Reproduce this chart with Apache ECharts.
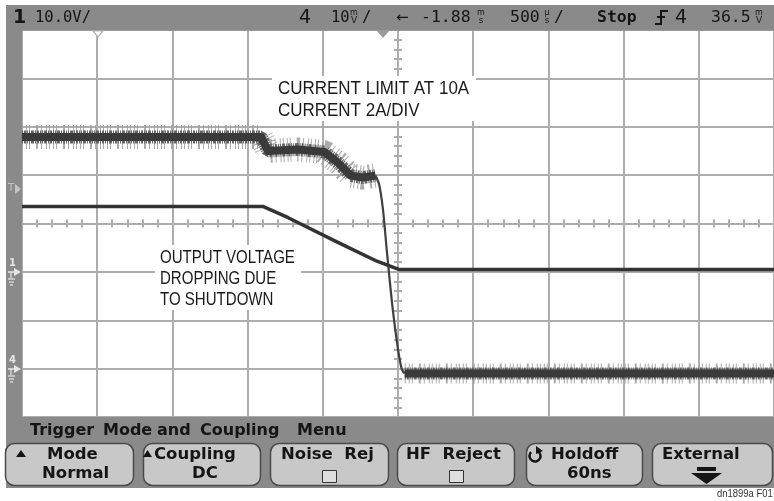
<!DOCTYPE html>
<html><head><meta charset="utf-8">
<script src="https://cdn.jsdelivr.net/npm/echarts@6/dist/echarts.min.js"></script>
<style>html,body{margin:0;padding:0;background:#fff}#c{width:774px;height:501px}</style>
</head><body><div id="c"></div>
<script>
// Units: x in divisions (500us/div, -5..5), y in divisions (-4..4)
const currentHigh = [[-5,1.79],[-1.82,1.79],[-1.73,1.50],[-1.33,1.53],[-0.98,1.48],[-0.80,1.26],[-0.63,0.99],[-0.47,0.95],[-0.30,0.99]];
const currentDrop = [[-0.30,0.99],[-0.25,0.80],[-0.20,0.29],[-0.15,-0.54],[-0.07,-1.77],[0.0,-2.60],[0.05,-3.01],[0.09,-3.10]];
const currentLow  = [[0.09,-3.10],[5,-3.10]];
const voltage     = [[-5,0.35],[-1.79,0.35],[-1.46,0.12],[-0.80,-0.39],[-0.28,-0.78],[0.01,-0.95],[5,-0.95]];

const annotCurrent = ['CURRENT LIMIT AT 10A','CURRENT 2A/DIV'];
const annotVoltage = ['OUTPUT VOLTAGE','DROPPING DUE','TO SHUTDOWN'];
const menuWords = ['Trigger','Mode','and','Coupling','Menu'];
const buttonLines = [['Mode','Normal'],['Coupling','DC'],['Noise  Rej',''],['HF  Reject',''],['Holdoff','60ns'],['External','']];

const GRID = '#adadad';
const FRAME = '#8a8a8a';
const TXT = '#151515';

const chart = echarts.init(document.getElementById('c'), null, {renderer:'canvas'});

function axisX(pos, idx){
  return {type:'value', position:pos, min:-5, max:5, interval:1,
    axisLine:{show:true, onZero:true, onZeroAxisIndex:0, lineStyle:{color:GRID, width:2}},
    axisTick:{show:false}, axisLabel:{show:false},
    minorTick:{show:true, splitNumber:5, length:4, lineStyle:{color:GRID, width:2}},
    splitLine:{show: idx===0, lineStyle:{color:GRID, width:2}}, minorSplitLine:{show:false}};
}
function axisY(pos, idx){
  return {type:'value', position:pos, min:-4, max:4, interval:1,
    axisLine:{show:true, onZero:true, onZeroAxisIndex:0, lineStyle:{color:GRID, width:2}},
    axisTick:{show:false}, axisLabel:{show:false},
    minorTick:{show:true, splitNumber:5, length:4, lineStyle:{color:GRID, width:2}},
    splitLine:{show: idx===0, lineStyle:{color:GRID, width:2}}, minorSplitLine:{show:false}};
}
function noisy(data, wide, mid){
  return [
    {type:'line', data, showSymbol:false, silent:true, z:2,
      lineStyle:{color:'#a2a2a2', width:wide, type:[1,3,1,2,1,6,2,3,1,4,1,2], cap:'butt', opacity:0.9}},
    {type:'line', data, showSymbol:false, silent:true, z:3,
      lineStyle:{color:'#666', width:mid, type:[1,1,2,1,1,1,1,1,3,1], cap:'butt'}},
    {type:'line', data, showSymbol:false, silent:true, z:4,
      lineStyle:{color:'#3a3a3a', width:8, join:'round'}}
  ];
}

const mono = 'DejaVu Sans Mono';
const sans = 'DejaVu Sans';
const cond = 'Liberation Sans, Arial, sans-serif';

const g = [];
// frame pieces
g.push({type:'rect', z:1, shape:{x:6,y:5,width:768,height:25.5}, style:{fill:FRAME}});
g.push({type:'rect', z:1, shape:{x:6,y:30,width:16,height:388}, style:{fill:FRAME}});
g.push({type:'rect', z:1, shape:{x:6,y:417,width:768,height:71}, style:{fill:FRAME}});
// top status bar
function st(text, x, y, o){ g.push({type:'text', z:50, style:Object.assign({text, x, y, fill:TXT, fontFamily:mono, fontSize:16.5, verticalAlign:'middle'}, o||{})}); }
st('1', 13, 18, {fontFamily:sans, fontWeight:'bold', fontSize:19});
st('10.0V/', 35, 18, {fontSize:15.5});
st('4', 299, 18, {fontFamily:sans, fontSize:19});
st('10', 331, 18, {fontSize:15.5});
st('m', 354, 13, {fontFamily:sans, fontSize:8, align:'center'});
st('V', 354, 21, {fontFamily:sans, fontSize:9, align:'center'});
st('/', 362, 18, {fontSize:15.5});
st('←', 396, 18, {fontFamily:sans, fontSize:15});
st('-1.88', 421, 18);
st('m', 481, 13, {fontFamily:sans, fontSize:8, align:'center'});
st('s', 481, 21, {fontFamily:sans, fontSize:9, align:'center'});
st('500', 510, 18);
st('µ', 547, 13, {fontFamily:sans, fontSize:8, align:'center'});
st('s', 547, 21, {fontFamily:sans, fontSize:9, align:'center'});
st('/', 554, 18);
st('Stop', 597, 18, {fontWeight:'bold'});
g.push({type:'polyline', z:50, shape:{points:[[655,24],[661,24],[661,11],[668,11]]}, style:{stroke:TXT, lineWidth:2, fill:null}});
g.push({type:'line', z:50, shape:{x1:657,y1:17,x2:665,y2:17}, style:{stroke:TXT, lineWidth:2}});
st('4', 675, 18, {fontFamily:sans, fontSize:19});
st('36.5', 711, 18);
st('m', 759, 13, {fontFamily:sans, fontSize:8, align:'center'});
st('V', 759, 21, {fontFamily:sans, fontSize:9, align:'center'});
// top markers
g.push({type:'polygon', z:50, shape:{points:[[93,31],[103,31],[98,37]]}, style:{fill:'#fff', stroke:'#b5b5b5', lineWidth:1.2}});
g.push({type:'polygon', z:50, shape:{points:[[377,31],[389,31],[383,38]]}, style:{fill:'#999'}});
// left strip markers
g.push({type:'text', z:50, style:{text:'T', x:8, y:188, fill:'#c4c4c4', fontFamily:sans, fontSize:10, verticalAlign:'middle'}});
g.push({type:'polygon', z:50, shape:{points:[[15,184],[15,194],[21,189]]}, style:{fill:'#c4c4c4'}});
function gndMarker(label, y){
  const c = '#e6e6e6';
  g.push({type:'text', z:50, style:{text:label, x:9, y:y-9, fill:c, fontFamily:sans, fontSize:10, fontWeight:'bold', verticalAlign:'middle'}});
  g.push({type:'polygon', z:50, shape:{points:[[14,y-4],[14,y+4],[21,y]]}, style:{fill:c}});
  g.push({type:'line', z:50, shape:{x1:8,y1:y,x2:14,y2:y}, style:{stroke:c, lineWidth:1.5}});
  g.push({type:'line', z:50, shape:{x1:11,y1:y,x2:11,y2:y+6}, style:{stroke:c, lineWidth:1.2}});
  g.push({type:'line', z:50, shape:{x1:8,y1:y+7,x2:15,y2:y+7}, style:{stroke:c, lineWidth:1.2}});
  g.push({type:'line', z:50, shape:{x1:9,y1:y+10,x2:14,y2:y+10}, style:{stroke:c, lineWidth:1.2}});
  g.push({type:'line', z:50, shape:{x1:10,y1:y+13,x2:13,y2:y+13}, style:{stroke:c, lineWidth:1.2}});
}
gndMarker('1', 272);
gndMarker('4', 369);
// annotations (white boxes hide the grid behind the text)
g.push({type:'rect', z:39, shape:{x:272,y:76,width:204,height:45}, style:{fill:'#fff'}});
g.push({type:'text', z:40, x:278, y:78, scaleX:0.97, style:{text:annotCurrent.join('\n'), x:0, y:0, fill:'#1a1a1a', fontFamily:cond, fontSize:17.5, lineHeight:22, verticalAlign:'top'}});
g.push({type:'rect', z:39, shape:{x:155,y:245,width:146,height:65}, style:{fill:'#fff'}});
g.push({type:'text', z:40, x:160, y:248, scaleX:0.86, style:{text:annotVoltage.join('\n'), x:0, y:0, fill:'#1a1a1a', fontFamily:cond, fontSize:17.5, lineHeight:21, verticalAlign:'top'}});
// menu title
const menuX = [30,103,157,200,297];
menuWords.forEach((w,i)=>g.push({type:'text', z:50, style:{text:w, x:menuX[i], y:431, fill:TXT, fontFamily:sans, fontWeight:'bold', fontSize:16, verticalAlign:'middle'}}));
// buttons
const btnX = [[5,133],[143,260],[270,388],[397,514],[526,642],[652,772]];
btnX.forEach((b)=>{
  g.push({type:'rect', z:45, shape:{x:b[0]+0.5,y:443.5,width:b[1]-b[0],height:42,r:9}, style:{fill:'#c8c8c8', stroke:'#4a4a4a', lineWidth:1.5}});
});
const bf = {fill:TXT, fontFamily:sans, fontWeight:'bold', fontSize:16.5, verticalAlign:'middle'};
function BT(t,x,y){ g.push({type:'text', z:50, style:Object.assign({text:t,x,y}, bf)}); }
BT(buttonLines[0][0], 47, 455); BT(buttonLines[0][1], 42, 474);
g.push({type:'polygon', z:50, shape:{points:[[16,457],[26,457],[21,450]]}, style:{fill:TXT}});
BT(buttonLines[1][0], 154, 455); BT(buttonLines[1][1], 192, 474);
g.push({type:'polygon', z:50, shape:{points:[[143,457],[152,457],[147.5,450]]}, style:{fill:TXT}});
BT(buttonLines[2][0], 281, 455);
g.push({type:'rect', z:50, shape:{x:322.5,y:470.5,width:14,height:12}, style:{fill:'#dedede', stroke:'#333', lineWidth:1}});
BT(buttonLines[3][0], 406, 455);
g.push({type:'rect', z:50, shape:{x:449.5,y:470.5,width:14,height:12}, style:{fill:'#dedede', stroke:'#333', lineWidth:1}});
BT(buttonLines[4][0], 551, 455); BT(buttonLines[4][1], 567, 474);
g.push({type:'arc', z:50, shape:{cx:535,cy:456,r:5.5,startAngle:-Math.PI*0.35,endAngle:Math.PI*1.25}, style:{stroke:TXT, lineWidth:2.5, fill:null}});
g.push({type:'polygon', z:50, shape:{points:[[536,446],[543,451],[536,454]]}, style:{fill:TXT}});
BT(buttonLines[5][0], 662, 455);
g.push({type:'rect', z:50, shape:{x:697,y:467,width:19,height:4}, style:{fill:TXT}});
g.push({type:'polygon', z:50, shape:{points:[[691,473],[722,473],[706.5,484]]}, style:{fill:TXT}});
// footnote
g.push({type:'text', z:50, x:717, y:494, scaleX:0.9, style:{text:'dn1899a F01', x:0, y:0, fill:'#333', fontFamily:cond, fontSize:10.5, verticalAlign:'middle'}});

const option = {
  animation:false,
  backgroundColor:'#fff',
  grid:{left:22, top:30, width:758, height:387, show:true, backgroundColor:'#fff', borderWidth:0, containLabel:false},
  xAxis:[axisX('bottom',0), axisX('top',1)],
  yAxis:[axisY('left',0), axisY('right',1)],
  series:[
    ...noisy(currentHigh, 24, 13),
    ...noisy(currentLow, 20, 12),
    {type:'line', data:currentDrop, showSymbol:false, silent:true, z:4, smooth:0.3, lineStyle:{color:'#404040', width:2.2}},
    {type:'line', data:voltage, showSymbol:false, silent:true, z:5, lineStyle:{color:'#333', width:3.5, join:'round'}}
  ],
  graphic:g
};
chart.setOption(option);
</script></body></html>
